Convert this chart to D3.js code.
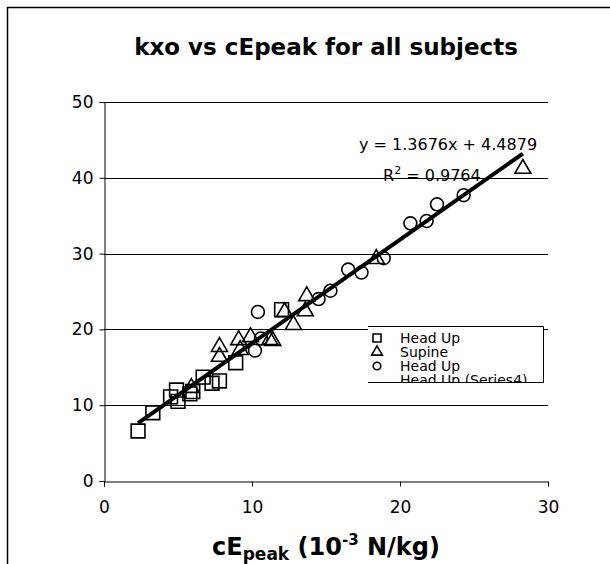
<!DOCTYPE html>
<html>
<head>
<meta charset="utf-8">
<script src="https://cdn.jsdelivr.net/npm/d3@7"></script>
<style>
  body { margin: 0; background: #fff; }
  text { font-family: "DejaVu Sans", Verdana, sans-serif; fill: #000; }
</style>
</head>
<body>
<script>
// Head Up (squares)
var headUp = [[2.3, 6.6], [3.3, 9.0], [4.5, 11.1], [4.9, 12.0], [5.0, 10.5], [5.8, 11.5],
  [6.0, 11.8], [6.7, 13.7], [7.3, 12.9], [7.8, 13.2], [8.9, 15.6], [12.0, 22.6]];
// Supine (triangles)
var supine = [[5.9, 12.3], [7.8, 17.7], [7.8, 16.4], [9.1, 18.6], [9.2, 17.3], [9.9, 19.0],
  [11.2, 18.6], [11.4, 18.5], [12.2, 22.3], [12.8, 20.6], [13.7, 24.4], [13.6, 22.4],
  [18.4, 29.3], [28.3, 41.2]];
// Head Up (circles)
var headUp2 = [[10.4, 22.3], [10.2, 17.2], [10.6, 18.8], [14.5, 24.0], [15.3, 25.1],
  [16.5, 27.9], [17.4, 27.5], [18.9, 29.4], [20.7, 34.0], [21.8, 34.3], [22.5, 36.5], [24.3, 37.7]];

var xTicks = [0, 10, 20, 30];
var yTicks = [0, 10, 20, 30, 40, 50];
var slope = 1.3676, intercept = 4.4879, r2 = "0.9764";
var legendNames = ["Head Up", "Supine", "Head Up", "Head Up (Series4)"];

var W = 610, H = 564;
var svg = d3.select("body").append("svg").attr("width", W).attr("height", H);

// outer chart frame (only top and left visible)
svg.append("path").attr("d", "M7.5,564V7.5H610").attr("fill", "none")
  .attr("stroke", "#000").attr("stroke-width", 1.5);

var x = d3.scaleLinear().domain([0, 30]).range([104, 548]);
var y = d3.scaleLinear().domain([0, 50]).range([481, 102]);

svg.append("text").attr("x", 326).attr("y", 55).attr("text-anchor", "middle")
  .style("font-size", "23px").style("font-weight", "bold")
  .text("kxo vs cEpeak for all subjects");

// gridlines
svg.append("g").selectAll("line").data(yTicks.slice(1)).enter().append("line")
  .attr("x1", x(0)).attr("x2", x(30))
  .attr("y1", function(d) { return Math.round(y(d)) + 0.5; })
  .attr("y2", function(d) { return Math.round(y(d)) + 0.5; })
  .attr("stroke", "#000").attr("stroke-width", 1);

var yAxis = svg.append("g").attr("transform", "translate(104.5,0)")
  .call(d3.axisLeft(y).tickValues(yTicks).tickSize(5).tickPadding(6));
var xAxis = svg.append("g").attr("transform", "translate(0,481.5)")
  .call(d3.axisBottom(x).tickValues(xTicks).tickSize(5).tickPadding(14));
[xAxis, yAxis].forEach(function(a) {
  a.select(".domain").attr("stroke", "#000");
  a.selectAll("line").attr("stroke", "#000");
  a.selectAll("text").style("font-size", "17px").style("font-family", "DejaVu Sans, Verdana, sans-serif");
});

// trendline
var xMin = d3.min(headUp.concat(supine, headUp2), function(d) { return d[0]; });
var xMax = d3.max(headUp.concat(supine, headUp2), function(d) { return d[0]; });
svg.append("line")
  .attr("x1", x(xMin)).attr("y1", y(slope * xMin + intercept))
  .attr("x2", x(xMax)).attr("y2", y(slope * xMax + intercept))
  .attr("stroke", "#000").attr("stroke-width", 4);

var symSquare = d3.symbol().type(d3.symbolSquare).size(190);
var symTri = d3.symbol().type(d3.symbolTriangle).size(110);
var symCirc = d3.symbol().type(d3.symbolCircle).size(130);

function drawSeries(data, sym) {
  svg.append("g").selectAll("path").data(data).enter().append("path")
    .attr("d", sym)
    .attr("transform", function(d) { return "translate(" + x(d[0]) + "," + y(d[1]) + ")"; })
    .attr("fill", "none").attr("stroke", "#000").attr("stroke-width", 1.6);
}
drawSeries(headUp, symSquare);
drawSeries(supine, symTri);
drawSeries(headUp2, symCirc);

// equation
svg.append("text").attr("x", 359).attr("y", 150).style("font-size", "16px")
  .text("y = " + slope + "x + " + intercept);
var r = svg.append("text").attr("x", 383).attr("y", 181).style("font-size", "16px");
r.append("tspan").text("R");
r.append("tspan").attr("dy", -7).style("font-size", "11px").text("2");
r.append("tspan").attr("dy", 7).text(" = " + r2);

// legend (clipped box)
var lg = svg.append("g");
svg.append("clipPath").attr("id", "lgclip").append("rect")
  .attr("x", 368).attr("y", 326).attr("width", 175).attr("height", 56);
lg.append("rect").attr("x", 368).attr("y", 326).attr("width", 175).attr("height", 56)
  .attr("fill", "#fff");
var items = lg.append("g").attr("clip-path", "url(#lgclip)");
var syms = [d3.symbol().type(d3.symbolSquare).size(64), d3.symbol().type(d3.symbolTriangle).size(50),
  d3.symbol().type(d3.symbolCircle).size(45), null];
legendNames.forEach(function(name, i) {
  var cy = 338 + i * 14;
  if (syms[i]) {
    items.append("path").attr("d", syms[i]).attr("transform", "translate(377," + cy + ")")
      .attr("fill", "none").attr("stroke", "#000").attr("stroke-width", 1.6);
  }
  items.append("text").attr("x", 400).attr("y", cy + 5).style("font-size", "14px").text(name);
});
lg.append("path").attr("d", "M368,326.5H543.5V382.5H368").attr("fill", "none")
  .attr("stroke", "#000").attr("stroke-width", 1);

// x axis title
var t = svg.append("text").attr("x", 326).attr("y", 555).attr("text-anchor", "middle")
  .style("font-size", "24px").style("font-weight", "bold");
t.append("tspan").text("cE");
t.append("tspan").attr("dy", 5).style("font-size", "17px").text("peak");
t.append("tspan").attr("dy", -5).text(" (10");
t.append("tspan").attr("dy", -10).style("font-size", "15px").text("-3");
t.append("tspan").attr("dy", 10).text(" N/kg)");
</script>
</body>
</html>
